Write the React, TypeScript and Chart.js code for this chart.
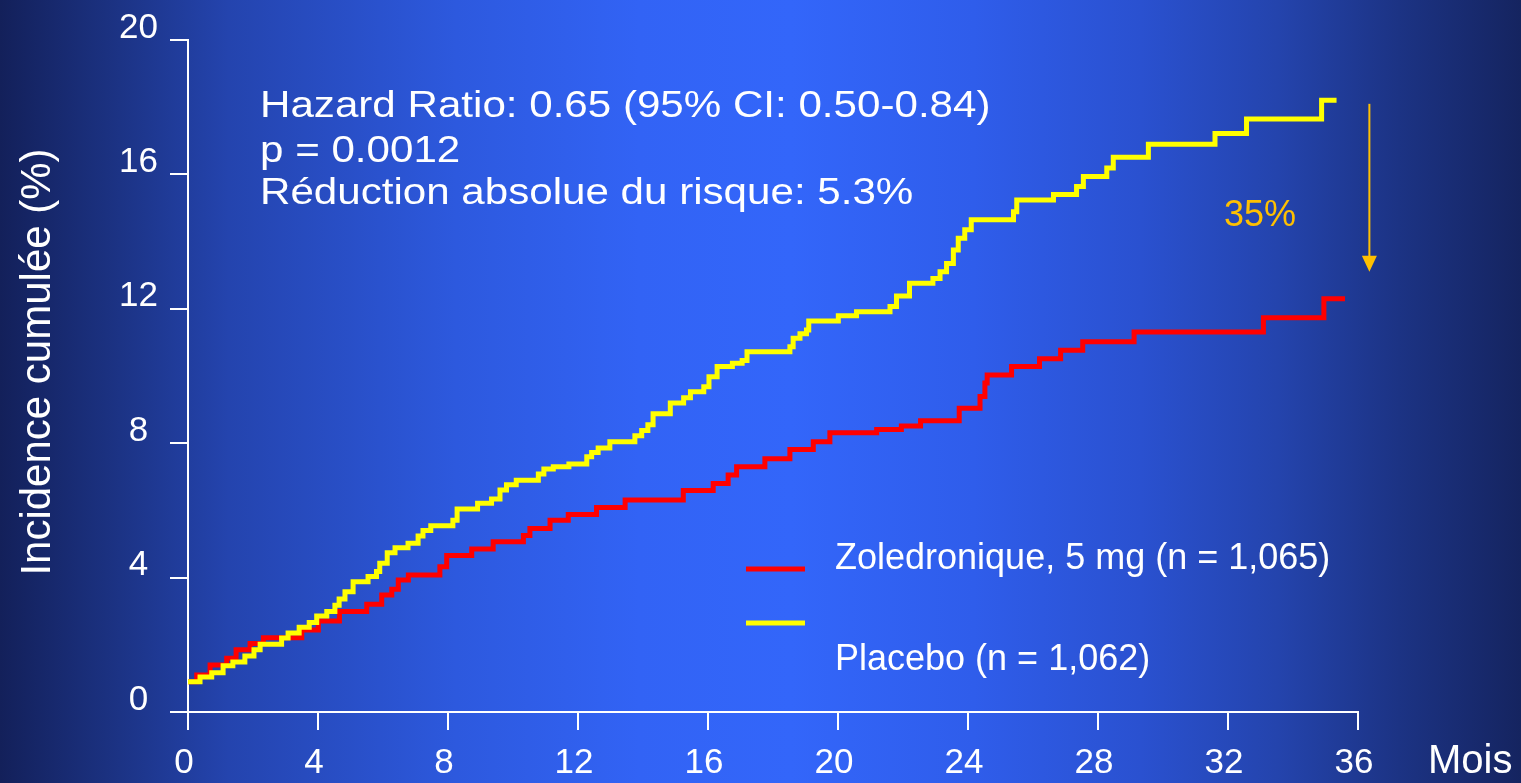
import React, { useEffect, useRef } from "react";
import { Chart, registerables } from "chart.js";

Chart.register(...registerables);

// ---- Data ----
const zolMonths = [0, 0.27, 0.68, 1.19, 1.48, 1.91, 2.32, 3.5, 4.01, 4.66, 5.5, 5.96, 6.27, 6.47, 6.78, 7.75, 7.96, 8.73, 9.39, 10.32, 10.52, 11.14, 11.7, 12.57, 13.45, 15.24, 16.16, 16.62, 16.88, 17.75, 18.52, 19.24, 19.75, 21.19, 21.95, 22.54, 23.73, 24.37, 24.52, 24.59, 25.34, 26.2, 26.85, 27.53, 29.11, 33.09, 34.95, 35.6];
const zolValues = [0.9, 1.1, 1.4, 1.6, 1.85, 2.04, 2.21, 2.44, 2.71, 2.99, 3.21, 3.48, 3.65, 3.93, 4.08, 4.32, 4.66, 4.85, 5.07, 5.25, 5.46, 5.71, 5.88, 6.09, 6.31, 6.59, 6.8, 7.05, 7.3, 7.54, 7.81, 8.04, 8.31, 8.41, 8.51, 8.67, 9.04, 9.39, 9.79, 10.03, 10.28, 10.51, 10.77, 11.02, 11.31, 11.73, 12.3, 12.3];

const plaMonths = [0, 0.37, 0.73, 1.08, 1.38, 1.75, 2.03, 2.22, 2.88, 3.08, 3.42, 3.73, 3.96, 4.27, 4.52, 4.65, 4.83, 5.08, 5.54, 5.8, 5.9, 6.13, 6.37, 6.77, 7.08, 7.23, 7.47, 8.15, 8.28, 8.91, 9.34, 9.6, 9.8, 10.1, 10.78, 10.95, 11.24, 11.72, 12.27, 12.42, 12.62, 12.98, 13.75, 13.96, 14.15, 14.31, 14.84, 15.25, 15.46, 15.87, 16.03, 16.28, 16.75, 17.05, 17.2, 18.52, 18.62, 18.83, 19.03, 19.1, 20.01, 20.57, 21.6, 21.8, 22.2, 22.92, 23.14, 23.34, 23.55, 23.7, 23.9, 24.1, 25.4, 25.5, 26.63, 27.34, 27.55, 28.27, 28.47, 29.55, 31.6, 32.57, 34.88, 35.34];
const plaValues = [0.9, 1.04, 1.17, 1.38, 1.49, 1.67, 1.85, 2.02, 2.2, 2.35, 2.52, 2.66, 2.86, 2.99, 3.18, 3.36, 3.58, 3.88, 4.03, 4.18, 4.43, 4.74, 4.89, 5.02, 5.24, 5.4, 5.54, 5.71, 6.04, 6.21, 6.34, 6.61, 6.76, 6.9, 7.08, 7.23, 7.3, 7.38, 7.6, 7.72, 7.86, 8.04, 8.22, 8.38, 8.55, 8.88, 9.2, 9.35, 9.53, 9.68, 9.98, 10.28, 10.38, 10.46, 10.72, 10.87, 11.12, 11.26, 11.37, 11.64, 11.79, 11.91, 12.07, 12.38, 12.76, 12.9, 13.1, 13.35, 13.75, 14.1, 14.35, 14.65, 14.89, 15.24, 15.4, 15.64, 15.94, 16.19, 16.51, 16.9, 17.22, 17.65, 18.21, 18.21];

const seriesLabels = ["Zoledronique, 5 mg (n = 1,065)", "Placebo (n = 1,062)"];
const yTitle = "Incidence cumulée (%)";
const xTitle = "Mois";
const statsLines = [
  "Hazard Ratio: 0.65 (95% CI: 0.50-0.84)",
  "p = 0.0012",
  "Réduction absolue du risque: 5.3%",
];
const reductionLabel = "35%";
const arrowMonth = 36.35;
const arrowFrom = 18.1;
const arrowTo = 13.1;

const FONT = '"Liberation Sans", Arial, Helvetica, sans-serif';

const bgPlugin = {
  id: "bgGradient",
  beforeDraw(chart: any) {
    const { ctx, width, height } = chart;
    const g = ctx.createLinearGradient(0, 0, width, 0);
    g.addColorStop(0, "#13205a");
    g.addColorStop(0.07, "#1b3180");
    g.addColorStop(0.15, "#2444ae");
    g.addColorStop(0.3, "#2d59de");
    g.addColorStop(0.42, "#3263f5");
    g.addColorStop(0.52, "#3366fa");
    g.addColorStop(0.64, "#2f5deb");
    g.addColorStop(0.75, "#2a51d0");
    g.addColorStop(0.84, "#2444ad");
    g.addColorStop(0.92, "#1c3384");
    g.addColorStop(1, "#152460");
    ctx.save();
    ctx.fillStyle = g;
    ctx.fillRect(0, 0, width, height);
    ctx.restore();
  },
};

const annotPlugin = {
  id: "annotations",
  afterDraw(chart: any) {
    const { ctx } = chart;
    const xs = chart.scales.x;
    const ys = chart.scales.y;
    ctx.save();
    ctx.fillStyle = "#ffffff";
    ctx.textBaseline = "alphabetic";

    // stats text (horizontally stretched as in the slide)
    ctx.font = `36px ${FONT}`;
    const sx = 1.17;
    const baselines = [117, 162, 204];
    statsLines.forEach((t, i) => {
      ctx.save();
      ctx.translate(260, baselines[i]);
      ctx.scale(sx, 1);
      ctx.textAlign = "left";
      ctx.fillText(t, 0, 0);
      ctx.restore();
    });

    // y-axis title
    ctx.save();
    ctx.font = `42px ${FONT}`;
    ctx.translate(50, 362);
    ctx.rotate(-Math.PI / 2);
    ctx.textAlign = "center";
    ctx.fillText(yTitle, 0, 0);
    ctx.restore();

    // x-axis unit
    ctx.font = `40px ${FONT}`;
    ctx.textAlign = "left";
    ctx.fillText(xTitle, 1428, 773);

    // legend
    const ds = chart.data.datasets;
    const legendY = [569, 623];
    const textY = [569, 670];
    ctx.font = `36px ${FONT}`;
    ds.forEach((d: any, i: number) => {
      ctx.strokeStyle = d.borderColor;
      ctx.lineWidth = 5;
      ctx.beginPath();
      ctx.moveTo(746, legendY[i]);
      ctx.lineTo(805, legendY[i]);
      ctx.stroke();
      ctx.fillStyle = "#ffffff";
      ctx.fillText(seriesLabels[i], 835, textY[i]);
    });

    // 35% label and arrow
    ctx.fillStyle = "#ffc000";
    ctx.font = `36px ${FONT}`;
    ctx.fillText(reductionLabel, 1224, 226);
    const ax = xs.getPixelForValue(arrowMonth);
    const ay0 = ys.getPixelForValue(arrowFrom);
    const ay1 = ys.getPixelForValue(arrowTo);
    ctx.strokeStyle = "#ffc000";
    ctx.lineWidth = 2;
    ctx.beginPath();
    ctx.moveTo(ax, ay0);
    ctx.lineTo(ax, ay1 - 14);
    ctx.stroke();
    ctx.beginPath();
    ctx.moveTo(ax - 7.5, ay1 - 16);
    ctx.lineTo(ax + 7.5, ay1 - 16);
    ctx.lineTo(ax, ay1);
    ctx.closePath();
    ctx.fill();
    ctx.restore();
  },
};

export default function App() {
  const ref = useRef<HTMLCanvasElement | null>(null);
  useEffect(() => {
    if (!ref.current) return;
    const zolData = zolMonths.map((m, i) => ({ x: m, y: zolValues[i] }));
    const plaData = plaMonths.map((m, i) => ({ x: m, y: plaValues[i] }));
    const chart = new Chart(ref.current, {
      type: "line",
      data: {
        datasets: [
          {
            label: seriesLabels[0],
            data: zolData,
            borderColor: "#ff0000",
            borderWidth: 5,
            stepped: true,
            pointRadius: 0,
            fill: false,
            borderJoinStyle: "miter",
            borderCapStyle: "butt",
            order: 1,
          },
          {
            label: seriesLabels[1],
            data: plaData,
            borderColor: "#ffff00",
            borderWidth: 5,
            stepped: true,
            pointRadius: 0,
            fill: false,
            borderJoinStyle: "miter",
            borderCapStyle: "butt",
            order: 0,
          },
        ],
      },
      options: {
        animation: false,
        responsive: false,
        maintainAspectRatio: false,
        layout: { padding: { left: 0, right: 163, top: 40, bottom: 0 } },
        plugins: { legend: { display: false }, tooltip: { enabled: false }, title: { display: false } },
        scales: {
          x: {
            type: "linear",
            min: 0,
            max: 36,
            afterFit: (s: any) => {
              s.height = 71;
            },
            ticks: {
              stepSize: 4,
              color: "#ffffff",
              font: { family: FONT, size: 35 },
              padding: 12,
              labelOffset: -4,
              maxRotation: 0,
              autoSkip: false,
            },
            grid: {
              drawOnChartArea: false,
              drawTicks: true,
              tickLength: 18,
              color: "#ffffff",
              lineWidth: 2,
            },
            border: { display: true, color: "#ffffff", width: 2 },
          },
          y: {
            type: "linear",
            min: 0,
            max: 20,
            afterFit: (s: any) => {
              s.width = 188;
            },
            ticks: {
              stepSize: 4,
              color: "#ffffff",
              font: { family: FONT, size: 35 },
              padding: 12,
              labelOffset: -12,
              crossAlign: "center",
            },
            grid: {
              drawOnChartArea: false,
              drawTicks: true,
              tickLength: 18,
              color: "#ffffff",
              lineWidth: 2,
            },
            border: { display: true, color: "#ffffff", width: 2 },
          },
        },
      },
      plugins: [bgPlugin, annotPlugin],
    } as any);
    return () => chart.destroy();
  }, []);
  return (
    <div style={{ position: "fixed", left: 0, top: 0, width: 1521, height: 783 }}>
      <canvas ref={ref} width={1521} height={783} style={{ display: "block", width: 1521, height: 783 }} />
    </div>
  );
}
